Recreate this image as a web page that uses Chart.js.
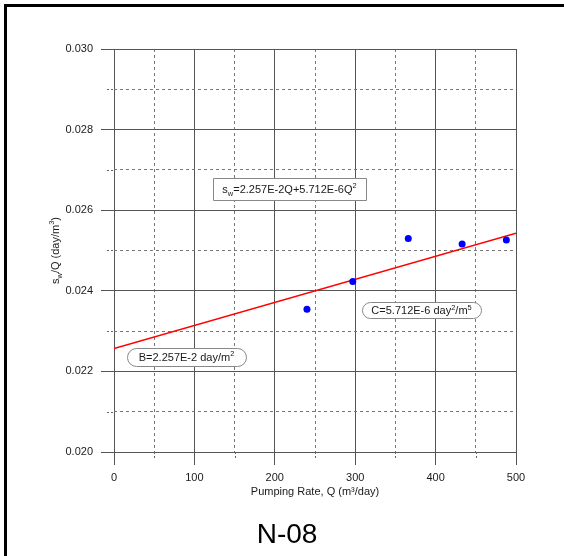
<!DOCTYPE html>
<html><head><meta charset="utf-8">
<script src="https://cdn.jsdelivr.net/npm/chart.js@4.4.0/dist/chart.umd.min.js"></script>
<style>html,body{margin:0;padding:0;background:#fff;} #wrap{position:absolute;left:0;top:0;width:564px;height:556px;}</style>
</head><body><div id="wrap"><canvas id="c" width="564" height="556"></canvas></div>
<script>
const pumpingRate = [240, 297, 366, 433, 488];
const swOverQ = [0.02354, 0.02423, 0.02530, 0.02516, 0.02526];
const fitQ = [0, 500];
const fitSwOverQ = [0.02257, 0.02543];
const xTickLabels = ['0', '100', '200', '300', '400', '500'];
const yTickLabels = ['0.020', '0.022', '0.024', '0.026', '0.028', '0.030'];
const chartTitle = 'N-08';
const xTitle = 'Pumping Rate, Q (m\u00B3/day)';
const yTitleParts = [['s', ''], ['w', 'sub'], ['/Q (day/m', ''], ['3', 'sup'], [')', '']];
const eqParts = [['s', ''], ['w', 'sub'], ['=2.257E-2Q+5.712E-6Q', ''], ['2', 'sup']];
const cParts = [['C=5.712E-6 day', ''], ['2', 'sup'], ['/m', ''], ['5', 'sup']];
const bParts = [['B=2.257E-2 day/m', ''], ['2', 'sup']];

const FONT = '"Liberation Sans", Arial, sans-serif';
const TXT = '#1a1a1a';

const annotationCfg = [
  { parts: eqParts, x: 218.3, y: 0.02653, w: 153, h: 22, shape: 'rect' },
  { parts: cParts, x: 382.5, y: 0.02352, w: 119, h: 16, shape: 'round' },
  { parts: bParts, x: 90.2, y: 0.02236, w: 119, h: 18, shape: 'round' }
];

function partsWidth(ctx, parts, size) {
  let w = 0;
  for (const [t, k] of parts) {
    ctx.font = (k ? size * 0.68 : size) + 'px ' + FONT;
    w += ctx.measureText(t).width;
  }
  return w;
}
function drawParts(ctx, parts, cx, cy, size) {
  const w = partsWidth(ctx, parts, size);
  let x = cx - w / 2;
  const base = cy + size * 0.36;
  ctx.textAlign = 'left';
  ctx.textBaseline = 'alphabetic';
  for (const [t, k] of parts) {
    const fs = k ? size * 0.68 : size;
    ctx.font = fs + 'px ' + FONT;
    const dy = k === 'sub' ? 3 : (k === 'sup' ? -4.5 : 0);
    ctx.fillText(t, x, base + dy);
    x += ctx.measureText(t).width;
  }
}
function findLabel(list, v) {
  const l = list.find(s => Math.abs(parseFloat(s) - v) < 1e-9);
  return l === undefined ? '' : l;
}
const isMajorX = c => c.tick && findLabel(xTickLabels, c.tick.value) !== '';
const isMajorY = c => c.tick && findLabel(yTickLabels, c.tick.value) !== '';

const extras = {
  id: 'extras',
  afterDatasetsDraw(chart) {
    const ctx = chart.ctx;
    const xs = chart.scales.x, ys = chart.scales.y;
    ctx.save();
    // minor tick marks
    ctx.strokeStyle = '#666';
    ctx.lineWidth = 1;
    ctx.setLineDash([2, 2]);
    xs.ticks.forEach(t => {
      if (findLabel(xTickLabels, t.value) === '') {
        const px = Math.round(xs.getPixelForValue(t.value)) + 0.5;
        ctx.beginPath(); ctx.moveTo(px, ys.bottom); ctx.lineTo(px, ys.bottom + 6); ctx.stroke();
      }
    });
    ys.ticks.forEach(t => {
      if (findLabel(yTickLabels, t.value) === '') {
        const py = Math.round(ys.getPixelForValue(t.value)) + 0.5;
        ctx.beginPath(); ctx.moveTo(xs.left - 7, py); ctx.lineTo(xs.left, py); ctx.stroke();
      }
    });
    ctx.setLineDash([]);
    // annotations
    annotationCfg.forEach(a => {
      const cx = xs.getPixelForValue(a.x), cy = ys.getPixelForValue(a.y);
      const l = Math.round(cx - a.w / 2) + 0.5, t = Math.round(cy - a.h / 2) + 0.5;
      ctx.fillStyle = '#fff';
      ctx.strokeStyle = '#888';
      ctx.lineWidth = 1;
      ctx.beginPath();
      if (a.shape === 'round') {
        ctx.roundRect(l, t, a.w, a.h, a.h / 2);
      } else {
        ctx.rect(l, t, a.w, a.h);
      }
      ctx.fill(); ctx.stroke();
      ctx.fillStyle = TXT;
      drawParts(ctx, a.parts, cx, cy, 11);
    });
    ctx.restore();
  },
  afterDraw(chart) {
    const ctx = chart.ctx;
    const ys = chart.scales.y;
    ctx.save();
    // frame
    ctx.fillStyle = '#000';
    ctx.fillRect(4, 4, 560, 3);
    ctx.fillRect(4, 4, 3, 552);
    // y title
    ctx.fillStyle = TXT;
    ctx.translate(55, (ys.top + ys.bottom) / 2);
    ctx.rotate(-Math.PI / 2);
    drawParts(ctx, yTitleParts, 0, 0, 11);
    ctx.restore();
    // big label
    ctx.save();
    ctx.fillStyle = '#000';
    ctx.font = '28px ' + FONT;
    ctx.textAlign = 'center';
    ctx.textBaseline = 'alphabetic';
    ctx.fillText(chartTitle, 287, 543);
    ctx.restore();
  }
};

new Chart(document.getElementById('c'), {
  type: 'scatter',
  data: {
    datasets: [
      {
        type: 'line',
        data: fitQ.map((q, i) => ({ x: q, y: fitSwOverQ[i] })),
        borderColor: '#ff0000', borderWidth: 1.5, pointRadius: 0, fill: false, order: 1
      },
      {
        type: 'scatter',
        data: pumpingRate.map((q, i) => ({ x: q, y: swOverQ[i] })),
        backgroundColor: '#0000ff', borderColor: '#0000ff', pointRadius: 3.5, borderWidth: 0, order: 0
      }
    ]
  },
  options: {
    responsive: false, animation: false, devicePixelRatio: 1,
    layout: { padding: { left: 0, top: 49, right: 48, bottom: 44 } },
    plugins: { legend: { display: false }, tooltip: { enabled: false }, title: { display: false } },
    scales: {
      x: {
        type: 'linear', position: 'bottom', min: 0, max: 500,
        afterFit: s => { s.height = 60; },
        ticks: {
          stepSize: 50, autoSkip: false, maxRotation: 0, padding: 6, color: TXT,
          font: { family: FONT, size: 11 },
          callback: v => findLabel(xTickLabels, v)
        },
        grid: {
          color: c => isMajorX(c) ? '#555' : '#777', lineWidth: 1, tickLength: 13,
          tickColor: c => isMajorX(c) ? '#555' : 'rgba(0,0,0,0)'
        },
        border: { display: false, dash: c => (c.tick && !isMajorX(c)) ? [3, 3] : [] },
        title: { display: true, text: xTitle, color: TXT, font: { family: FONT, size: 11 }, padding: { top: 0, bottom: 13 } }
      },
      y: {
        type: 'linear', position: 'left', min: 0.020, max: 0.030,
        afterFit: s => { s.width = 114; },
        ticks: {
          stepSize: 0.001, autoSkip: false, padding: 8, color: TXT,
          font: { family: FONT, size: 11 },
          callback: v => findLabel(yTickLabels, v)
        },
        grid: {
          color: c => isMajorY(c) ? '#555' : '#777', lineWidth: 1, tickLength: 13,
          tickColor: c => isMajorY(c) ? '#555' : 'rgba(0,0,0,0)'
        },
        border: { display: false, dash: c => (c.tick && !isMajorY(c)) ? [3, 3] : [] },
        title: { display: false }
      }
    }
  },
  plugins: [extras]
});
</script>
</body></html>
